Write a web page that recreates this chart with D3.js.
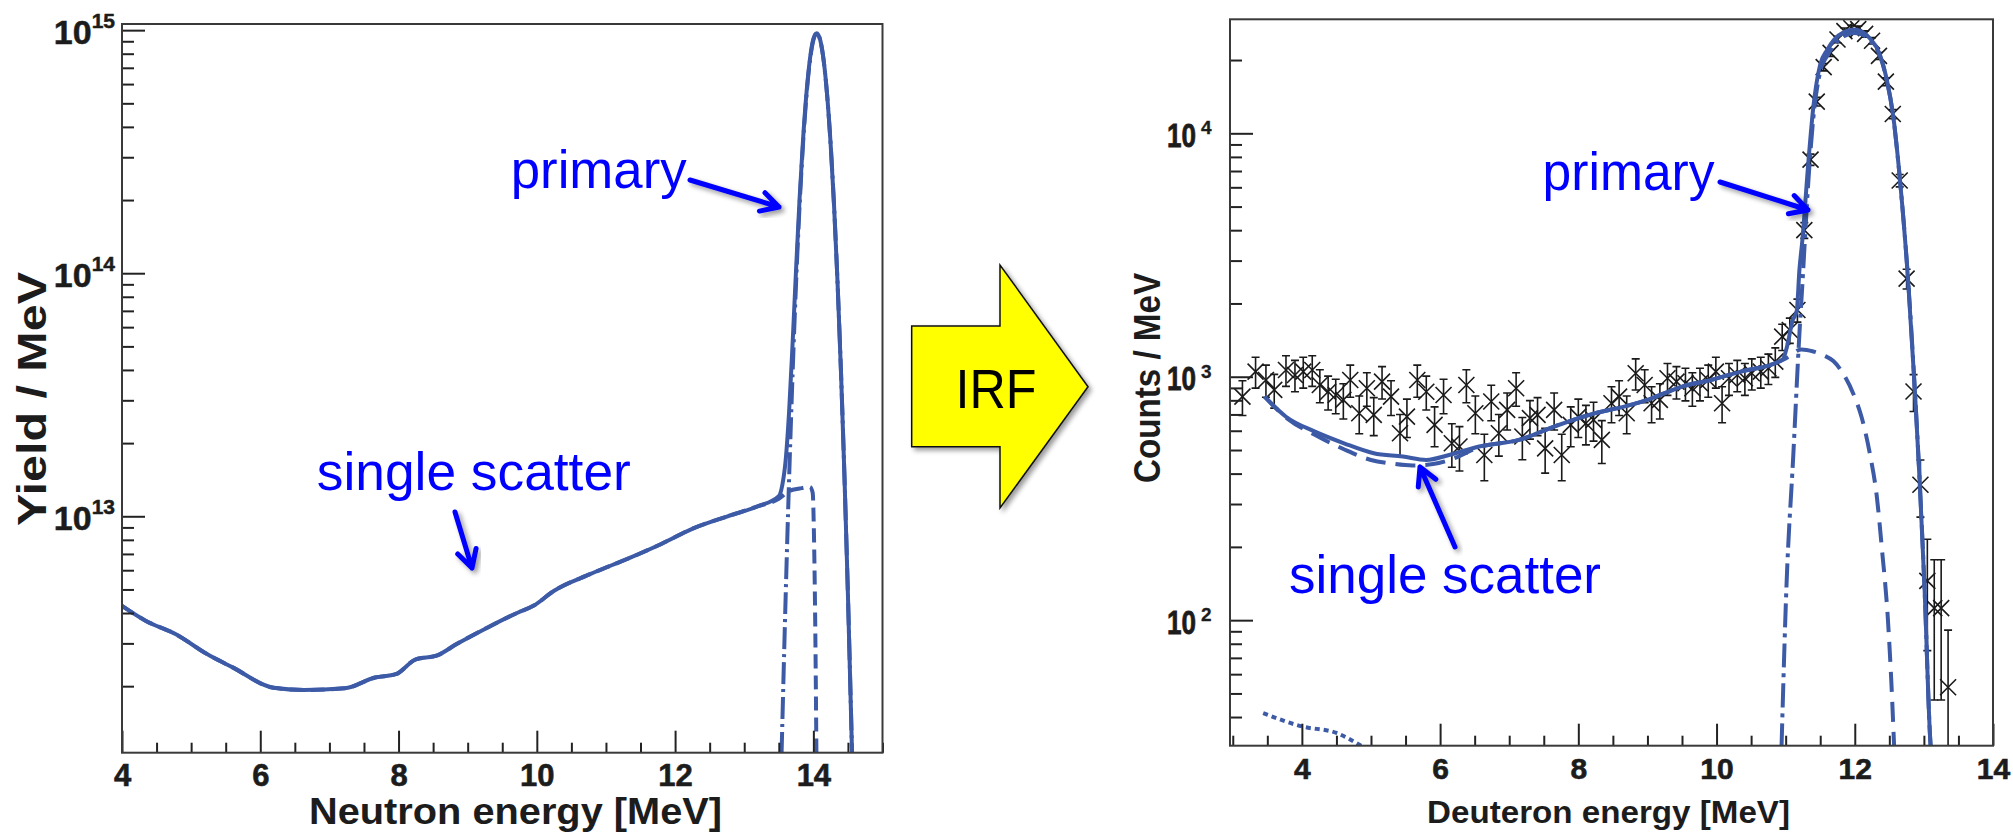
<!DOCTYPE html>
<html lang="en">
<head>
<meta charset="UTF-8">
<title>Neutron spectrum and IRF</title>
<style>
    body { margin: 0; background: #ffffff; }
    svg { display: block; font-family: "Liberation Sans", Arial, Helvetica, sans-serif; }
    .frame { fill: none; stroke: #3a3a3a; stroke-width: 2px; }
    .axis path { display: none; }
    .axis line { stroke: #222222; stroke-width: 2px; }
    .axis text { font-family: "Liberation Sans", Arial, Helvetica, sans-serif; font-weight: bold; fill: #1c1c1c; stroke: #1c1c1c; stroke-width: 0.6px; }
    .curve { fill: none; stroke: #3c5aa6; stroke-width: 4px; }
    .note { fill: #0000ff; font-size: 53px; }
    .pointer { fill: none; stroke: #0000ff; stroke-width: 5px; stroke-linecap: round; stroke-linejoin: round; }
    .data { fill: none; stroke: #1a1a1a; stroke-width: 1.6px; }
    .title { font-weight: bold; fill: #1c1c1c; }
</style>
</head>
<body>
<script src="https://d3js.org/d3.v7.min.js"></script>
<script>
// ---- left panel: neutron spectrum (Yield / MeV) ----
var leftTotalE = [4.0, 4.34, 4.78, 5.23, 5.60, 6.19, 6.63, 7.22, 7.66, 7.96, 8.25, 8.55, 8.84, 9.29, 9.73, 9.95, 10.25, 10.77, 11.36, 11.80,
    12.24, 12.76, 13.20, 13.50, 13.55, 13.60, 13.65, 13.70, 13.75, 13.80, 13.85, 13.90, 13.95, 14.00, 14.05, 14.10, 14.15, 14.20, 14.25, 14.30,
    14.35, 14.40, 14.45, 14.50, 14.56];
var leftTotalY = [4.28e12, 3.72e12, 3.27e12, 2.71e12, 2.39e12, 1.97e12, 1.93e12, 1.96e12, 2.17e12, 2.24e12, 2.58e12, 2.67e12, 2.98e12, 3.49e12, 4.02e12, 4.28e12, 4.94e12, 5.78e12, 6.77e12, 7.69e12,
    8.86e12, 1.0e13, 1.10e13, 1.21e13, 1.34e13, 1.71e13, 2.73e13, 5.17e13, 1.04e14, 2.01e14, 3.52e14, 5.50e14, 7.59e14, 9.21e14, 9.71e14, 9.08e14, 7.46e14, 5.37e14, 3.39e14, 1.88e14,
    9.13e13, 3.89e13, 1.455e13, 4.76e12, 1.05e12];

var leftSingleE = [4.0, 4.34, 4.78, 5.23, 5.60, 6.19, 6.63, 7.22, 7.66, 7.96, 8.25, 8.55, 8.84, 9.29, 9.73, 9.95, 10.25, 10.77, 11.36, 11.80,
    12.24, 12.76, 13.20, 13.50, 13.65, 13.80, 13.95, 13.99, 14.01, 14.03, 14.045];
var leftSingleY = [4.28e12, 3.72e12, 3.27e12, 2.71e12, 2.39e12, 1.97e12, 1.93e12, 1.96e12, 2.17e12, 2.24e12, 2.58e12, 2.67e12, 2.98e12, 3.49e12, 4.02e12, 4.28e12, 4.94e12, 5.78e12, 6.77e12, 7.69e12,
    8.86e12, 1.0e13, 1.10e13, 1.18e13, 1.27e13, 1.30e13, 1.32e13, 1.25e13, 8e12, 3e12, 1e12];

var leftPrimaryE = [13.54, 13.60, 13.65, 13.70, 13.75, 13.80, 13.85, 13.90, 13.95, 14.00, 14.05, 14.10, 14.15, 14.20, 14.25, 14.30, 14.35, 14.40, 14.45, 14.50, 14.56];
var leftPrimaryY = [1.05e12, 4.76e12, 1.455e13, 3.89e13, 9.13e13, 1.88e14, 3.39e14, 5.37e14, 7.46e14, 9.08e14, 9.7e14, 9.08e14, 7.46e14, 5.37e14, 3.39e14, 1.88e14, 9.13e13, 3.89e13, 1.455e13, 4.76e12, 1.05e12];

var leftMajorX = [4, 6, 8, 10, 12, 14];
var leftMajorY = [13, 14, 15];   // exponents

// ---- right panel: deuteron spectrum (Counts / MeV) ----
var rightTotalE = [3.46, 3.77, 4.19, 4.61, 5.04, 5.46, 5.80, 6.13, 6.55, 7.14, 7.65, 8.24, 8.66, 9.00, 9.25, 9.50, 9.92, 10.35, 10.89, 10.96,
    11.02, 11.10, 11.16, 11.20, 11.24, 11.33, 11.40, 11.50, 11.60, 11.70, 11.85, 11.98, 12.10, 12.22, 12.36, 12.46, 12.56, 12.65, 12.77, 12.87,
    12.94, 13.01, 13.09, 13.12];
var rightTotalY = [828, 685, 595, 533, 485, 470, 455, 477, 516, 550, 624, 708, 754, 803, 856, 911, 970, 1050, 1150, 1180,
    1330, 1700, 1860, 2770, 3600, 7710, 12800, 19200, 22000, 24200, 26100, 26700, 26200, 24500, 21200, 16800, 11550, 6620, 2530, 872,
    368, 134, 33, 25];

var rightSingleE = [3.46, 3.80, 4.20, 4.60, 5.00, 5.30, 5.60, 5.90, 6.20, 6.55, 7.14, 7.65, 8.24, 8.66, 9.00, 9.25, 9.50, 9.92, 10.35, 10.89,
    11.00, 11.23, 11.40, 11.55, 11.69, 11.85, 11.98, 12.10, 12.22, 12.32, 12.39, 12.48, 12.53, 12.57];
var rightSingleY = [828, 670, 575, 505, 455, 440, 432, 438, 462, 512, 550, 624, 708, 754, 803, 856, 911, 970, 1050, 1150,
    1190, 1295, 1270, 1225, 1160, 1010, 850, 680, 480, 320, 200, 100, 55, 30];

var rightPrimaryE = [10.94, 11.01, 11.11, 11.20, 11.24, 11.33, 11.40, 11.50, 11.60, 11.70, 11.85, 11.98, 12.10, 12.22, 12.36, 12.46, 12.56, 12.65, 12.77, 12.87,
    12.94, 13.01, 13.09, 13.12];
var rightPrimaryY = [30, 134, 474, 1520, 2350, 6450, 11550, 17950, 20800, 23000, 25100, 25850, 25500, 24000, 20950, 16650, 11500, 6600, 2530, 872,
    368, 134, 33, 25];

var rightBackE = [3.44, 4.0, 4.5, 4.87];
var rightBackY = [41.5, 36.6, 34.4, 30.3];

var dataE = [3.14, 3.33, 3.48, 3.60, 3.77, 3.90, 4.02, 4.15, 4.26, 4.38, 4.49, 4.60, 4.70, 4.83, 4.94, 5.04, 5.16, 5.29, 5.42, 5.52,
    5.67, 5.80, 5.92, 6.05, 6.17, 6.28, 6.38, 6.51, 6.64, 6.74, 6.85, 6.97, 7.10, 7.19, 7.30, 7.41, 7.52, 7.65, 7.76, 7.89,
    8.00, 8.11, 8.22, 8.34, 8.48, 8.59, 8.70, 8.83, 8.96, 9.06, 9.18, 9.29, 9.42, 9.55, 9.65, 9.76, 9.88, 9.99, 10.08, 10.18,
    10.30, 10.41, 10.51, 10.64, 10.75, 10.85, 10.95, 11.06, 11.17, 11.27, 11.36, 11.45, 11.55, 11.65, 11.75, 11.85, 11.95, 12.05, 12.15, 12.25,
    12.35, 12.45, 12.55, 12.65, 12.75, 12.85, 12.95, 13.05, 13.15, 13.25, 13.35];
var dataY = [828, 1050, 970, 883, 1066, 1017, 1050, 1066, 925, 868, 841, 803, 970, 708, 897, 697, 955, 828, 586, 686,
    970, 868, 634, 841, 533, 517, 925, 708, 477, 791, 586, 731, 897, 568, 676, 697, 508, 731, 477, 634,
    686, 644, 665, 550, 778, 828, 708, 1033, 925, 778, 803, 986, 955, 940, 897, 940, 970, 1050, 778, 986,
    1017, 986, 1033, 1050, 1084, 1154, 1462, 1556, 1880, 4000, 7800, 13500, 18700, 21400, 24300, 26300, 27000, 26800, 25600, 24000,
    20800, 16300, 12000, 6400, 2530, 870, 360, 145, 112, 112, 53];
var dataErr = [135, 152, 146, 140, 153, 150, 152, 153, 143, 138, 136, 133, 146, 125, 141, 124, 145, 135, 114, 123,
    146, 138, 118, 136, 108, 107, 143, 125, 103, 132, 114, 127, 141, 112, 122, 124, 106, 127, 103, 118,
    123, 119, 121, 110, 131, 135, 125, 151, 143, 131, 133, 148, 145, 144, 141, 144, 146, 152, 131, 148,
    150, 148, 151, 152, 155, 160, 180, 185, 204, 297, 415, 546, 643, 688, 733, 762, 772, 769, 752, 728,
    678, 600, 515, 376, 236, 150, 95, 70, 65, 65, 38];

var rightMajorX = [4, 6, 8, 10, 12, 14];
var rightMajorY = [2, 3, 4];   // exponents

var width = 2013;
var height = 832;

var svg = d3.select('body').append('svg')
    .attr('width', width)
    .attr('height', height);

var defs = svg.append('defs');
var shadow = defs.append('filter').attr('id', 'shadow')
    .attr('x', '-20%').attr('y', '-20%').attr('width', '140%').attr('height', '140%');
shadow.append('feGaussianBlur').attr('in', 'SourceAlpha').attr('stdDeviation', 2.5);
shadow.append('feOffset').attr('dx', 3).attr('dy', 3).attr('result', 'off');
shadow.append('feComponentTransfer').append('feFuncA').attr('type', 'linear').attr('slope', 0.4);
var merge = shadow.append('feMerge');
merge.append('feMergeNode');
merge.append('feMergeNode').attr('in', 'SourceGraphic');

function zip(xs, ys) {
    return xs.map(function(x, i) { return { x: x, y: ys[i] }; });
}

function minorTicks(lo, hi, step, majors) {
    return d3.range(lo, hi + 1e-9, step).filter(function(v) {
        return majors.indexOf(v) < 0;
    });
}

function logMinor(lo, hi) {
    var out = [];
    for (var e = Math.floor(Math.log10(lo)); e <= Math.ceil(Math.log10(hi)); e++) {
        for (var m = 2; m <= 9; m++) {
            var v = m * Math.pow(10, e);
            if (v > lo && v < hi) out.push(v);
        }
    }
    return out;
}

function drawCurve(g, x, y, pts, dash) {
    var line = d3.line()
        .x(function(d) { return x(d.x); })
        .y(function(d) { return y(d.y); })
        .curve(d3.curveMonotoneX);
    g.append('path')
        .datum(pts)
        .attr('class', 'curve')
        .attr('stroke-dasharray', dash)
        .attr('d', line);
}

function drawPointer(x1, y1, x2, y2) {
    var a = Math.atan2(y2 - y1, x2 - x1);
    var len = 20, spread = 0.5;
    var p = 'M' + x1 + ',' + y1 + 'L' + x2 + ',' + y2 +
        'M' + (x2 - len * Math.cos(a - spread)) + ',' + (y2 - len * Math.sin(a - spread)) +
        'L' + x2 + ',' + y2 +
        'L' + (x2 - len * Math.cos(a + spread)) + ',' + (y2 - len * Math.sin(a + spread));
    svg.append('path').attr('class', 'pointer').attr('d', p).attr('filter', 'url(#shadow)');
}

// ================= left panel =================
var xL = d3.scaleLinear().domain([4, 15]).range([122, 882.5]);
var yL = d3.scaleLog().domain([1.065e12, 1.06e15]).range([752.7, 24]);

defs.append('clipPath').attr('id', 'clipL').append('rect')
    .attr('x', xL.range()[0]).attr('y', yL.range()[1])
    .attr('width', xL.range()[1] - xL.range()[0]).attr('height', yL.range()[0] - yL.range()[1]);

var gL = svg.append('g').attr('clip-path', 'url(#clipL)');
drawCurve(gL, xL, yL, zip(leftPrimaryE, leftPrimaryY), '22,5,3,5');
drawCurve(gL, xL, yL, zip(leftSingleE, leftSingleY), '14,7');
drawCurve(gL, xL, yL, zip(leftTotalE, leftTotalY), null);

svg.append('g').attr('class', 'axis')
    .attr('transform', 'translate(0,' + yL.range()[0] + ')')
    .call(d3.axisBottom(xL).tickValues(minorTicks(4, 15, 0.5, leftMajorX)).tickSizeInner(-10).tickSizeOuter(0).tickFormat(''));
svg.append('g').attr('class', 'axis')
    .attr('transform', 'translate(0,' + yL.range()[0] + ')')
    .call(d3.axisBottom(xL).tickValues(leftMajorX).tickSizeInner(-22).tickSizeOuter(0).tickPadding(11).tickFormat(d3.format('d')))
    .selectAll('text').style('font-size', '31px');

svg.append('g').attr('class', 'axis')
    .attr('transform', 'translate(' + xL.range()[0] + ',0)')
    .call(d3.axisLeft(yL).tickValues(logMinor(1.065e12, 1.06e15)).tickSizeInner(-12).tickSizeOuter(0).tickFormat(''));
svg.append('g').attr('class', 'axis')
    .attr('transform', 'translate(' + xL.range()[0] + ',0)')
    .call(d3.axisLeft(yL).tickValues(leftMajorY.map(function(e) { return Math.pow(10, e); })).tickSizeInner(-23).tickSizeOuter(0).tickFormat(''));

var lLab = svg.selectAll('.ylabL').data(leftMajorY).enter().append('text')
    .attr('class', 'ylabL title')
    .attr('x', 115)
    .attr('y', function(e) { return yL(Math.pow(10, e)) + 14; })
    .attr('text-anchor', 'end')
    .style('font-size', '34px').style('stroke', '#1c1c1c').style('stroke-width', '0.5px')
    .text('10');
lLab.append('tspan').attr('dy', -16).style('font-size', '21px').text(function(e) { return e; });

svg.append('rect').attr('class', 'frame')
    .attr('x', xL.range()[0]).attr('y', yL.range()[1])
    .attr('width', xL.range()[1] - xL.range()[0]).attr('height', yL.range()[0] - yL.range()[1]);

svg.append('text')
    .attr('class', 'title')
    .attr('x', 515.5).attr('y', 824)
    .attr('text-anchor', 'middle')
    .attr('textLength', 413).attr('lengthAdjust', 'spacingAndGlyphs')
    .style('font-size', '37px')
    .text('Neutron energy [MeV]');

svg.append('text')
    .attr('class', 'title')
    .attr('transform', 'translate(46,399) rotate(-90)')
    .attr('text-anchor', 'middle')
    .attr('textLength', 254).attr('lengthAdjust', 'spacingAndGlyphs')
    .style('font-size', '40px')
    .text('Yield / MeV');

// ================= IRF arrow =================
var irf = [[911.7, 326], [1000, 326], [1000, 265], [1088, 386.7], [1000, 508], [1000, 446.7], [911.7, 446.7]];
svg.append('polygon')
    .attr('points', irf.map(function(p) { return p.join(','); }).join(' '))
    .attr('fill', '#ffff00').attr('stroke', '#111').attr('stroke-width', 1.5)
    .attr('filter', 'url(#shadow)');
svg.append('text')
    .attr('x', 996).attr('y', 408)
    .attr('text-anchor', 'middle')
    .attr('textLength', 81).attr('lengthAdjust', 'spacingAndGlyphs')
    .style('font-size', '55px').style('fill', '#000')
    .text('IRF');

// ================= right panel =================
var xR = d3.scaleLinear().domain([2.96, 14]).range([1230, 1993]);
var yR = d3.scaleLog().domain([30.5, 29400]).range([745.7, 19.3]);

defs.append('clipPath').attr('id', 'clipR').append('rect')
    .attr('x', xR.range()[0]).attr('y', yR.range()[1])
    .attr('width', xR.range()[1] - xR.range()[0]).attr('height', yR.range()[0] - yR.range()[1]);

var gR = svg.append('g').attr('clip-path', 'url(#clipR)');

// data points with error bars
var pts = dataE.map(function(e, i) { return { x: e, y: dataY[i], err: dataErr[i] }; });
var yLo = yR.domain()[0];
var mark = gR.selectAll('.pt').data(pts).enter().append('g').attr('class', 'pt');
mark.append('path')
    .attr('class', 'data')
    .attr('d', function(d) {
        var cx = xR(d.x);
        var top = yR(d.y + d.err);
        var bot = yR(Math.max(d.y - d.err, yLo * 0.5));
        return 'M' + cx + ',' + top + 'V' + bot +
            'M' + (cx - 4) + ',' + top + 'H' + (cx + 4) +
            'M' + (cx - 4) + ',' + bot + 'H' + (cx + 4);
    });
mark.append('path')
    .attr('class', 'data')
    .attr('stroke-width', 2.2)
    .attr('d', function(d) {
        var cx = xR(d.x), cy = yR(d.y), s = 8;
        return 'M' + (cx - s) + ',' + (cy - s) + 'L' + (cx + s) + ',' + (cy + s) +
            'M' + (cx - s) + ',' + (cy + s) + 'L' + (cx + s) + ',' + (cy - s);
    });

drawCurve(gR, xR, yR, zip(rightBackE, rightBackY), '5,4');
drawCurve(gR, xR, yR, zip(rightPrimaryE, rightPrimaryY), '24,6,4,6');
drawCurve(gR, xR, yR, zip(rightSingleE, rightSingleY), '20,10');
drawCurve(gR, xR, yR, zip(rightTotalE, rightTotalY), null);

svg.append('g').attr('class', 'axis')
    .attr('transform', 'translate(0,' + yR.range()[0] + ')')
    .call(d3.axisBottom(xR).tickValues(minorTicks(3, 13.5, 0.5, rightMajorX)).tickSizeInner(-10).tickSizeOuter(0).tickFormat(''));
svg.append('g').attr('class', 'axis')
    .attr('transform', 'translate(0,' + yR.range()[0] + ')')
    .call(d3.axisBottom(xR).tickValues(rightMajorX).tickSizeInner(-22).tickSizeOuter(0).tickPadding(12).tickFormat(d3.format('d')))
    .selectAll('text').style('font-size', '30px');

svg.append('g').attr('class', 'axis')
    .attr('transform', 'translate(' + xR.range()[0] + ',0)')
    .call(d3.axisLeft(yR).tickValues(logMinor(30.5, 29400)).tickSizeInner(-12).tickSizeOuter(0).tickFormat(''));
svg.append('g').attr('class', 'axis')
    .attr('transform', 'translate(' + xR.range()[0] + ',0)')
    .call(d3.axisLeft(yR).tickValues(rightMajorY.map(function(e) { return Math.pow(10, e); })).tickSizeInner(-23).tickSizeOuter(0).tickFormat(''));

// right y labels: condensed "10" with the exponent in the same text element
var rLab = svg.selectAll('.ylabR').data(rightMajorY).enter().append('text')
    .attr('class', 'ylabR title')
    .attr('x', 1167)
    .attr('y', function(e) { return yR(Math.pow(10, e)) + 13.5; })
    .style('font-size', '34px').style('stroke', '#1c1c1c').style('stroke-width', '0.8px');
rLab.append('tspan')
    .attr('textLength', 29).attr('lengthAdjust', 'spacingAndGlyphs')
    .text('10');
rLab.append('tspan')
    .attr('x', 1201).attr('dy', -12.5)
    .style('font-size', '19px').style('stroke-width', '0.3px')
    .text(function(e) { return e; });

svg.append('rect').attr('class', 'frame')
    .attr('x', xR.range()[0]).attr('y', yR.range()[1])
    .attr('width', xR.range()[1] - xR.range()[0]).attr('height', yR.range()[0] - yR.range()[1]);

svg.append('text')
    .attr('class', 'title')
    .attr('x', 1608.5).attr('y', 823)
    .attr('text-anchor', 'middle')
    .attr('textLength', 363).attr('lengthAdjust', 'spacingAndGlyphs')
    .style('font-size', '31px')
    .text('Deuteron energy [MeV]');

svg.append('text')
    .attr('class', 'title')
    .attr('transform', 'translate(1160,378) rotate(-90)')
    .attr('text-anchor', 'middle')
    .attr('textLength', 210).attr('lengthAdjust', 'spacingAndGlyphs')
    .style('font-size', '36px')
    .text('Counts / MeV');

// ================= annotations =================
var notes = [
    { text: 'primary', x: 510.7, y: 188.3, len: 176 },
    { text: 'single scatter', x: 316.8, y: 490, len: 314 },
    { text: 'primary', x: 1542.6, y: 190, len: 172 },
    { text: 'single scatter', x: 1289, y: 593, len: 312 }
];
svg.selectAll('.note').data(notes).enter().append('text')
    .attr('class', 'note')
    .attr('x', function(d) { return d.x; })
    .attr('y', function(d) { return d.y; })
    .attr('textLength', function(d) { return d.len; })
    .attr('lengthAdjust', 'spacingAndGlyphs')
    .text(function(d) { return d.text; });

drawPointer(690, 180, 779, 207);
drawPointer(455, 512, 472, 568);
drawPointer(1720, 182, 1808, 210);
drawPointer(1455, 547, 1420, 467);
</script>
</body>
</html>
